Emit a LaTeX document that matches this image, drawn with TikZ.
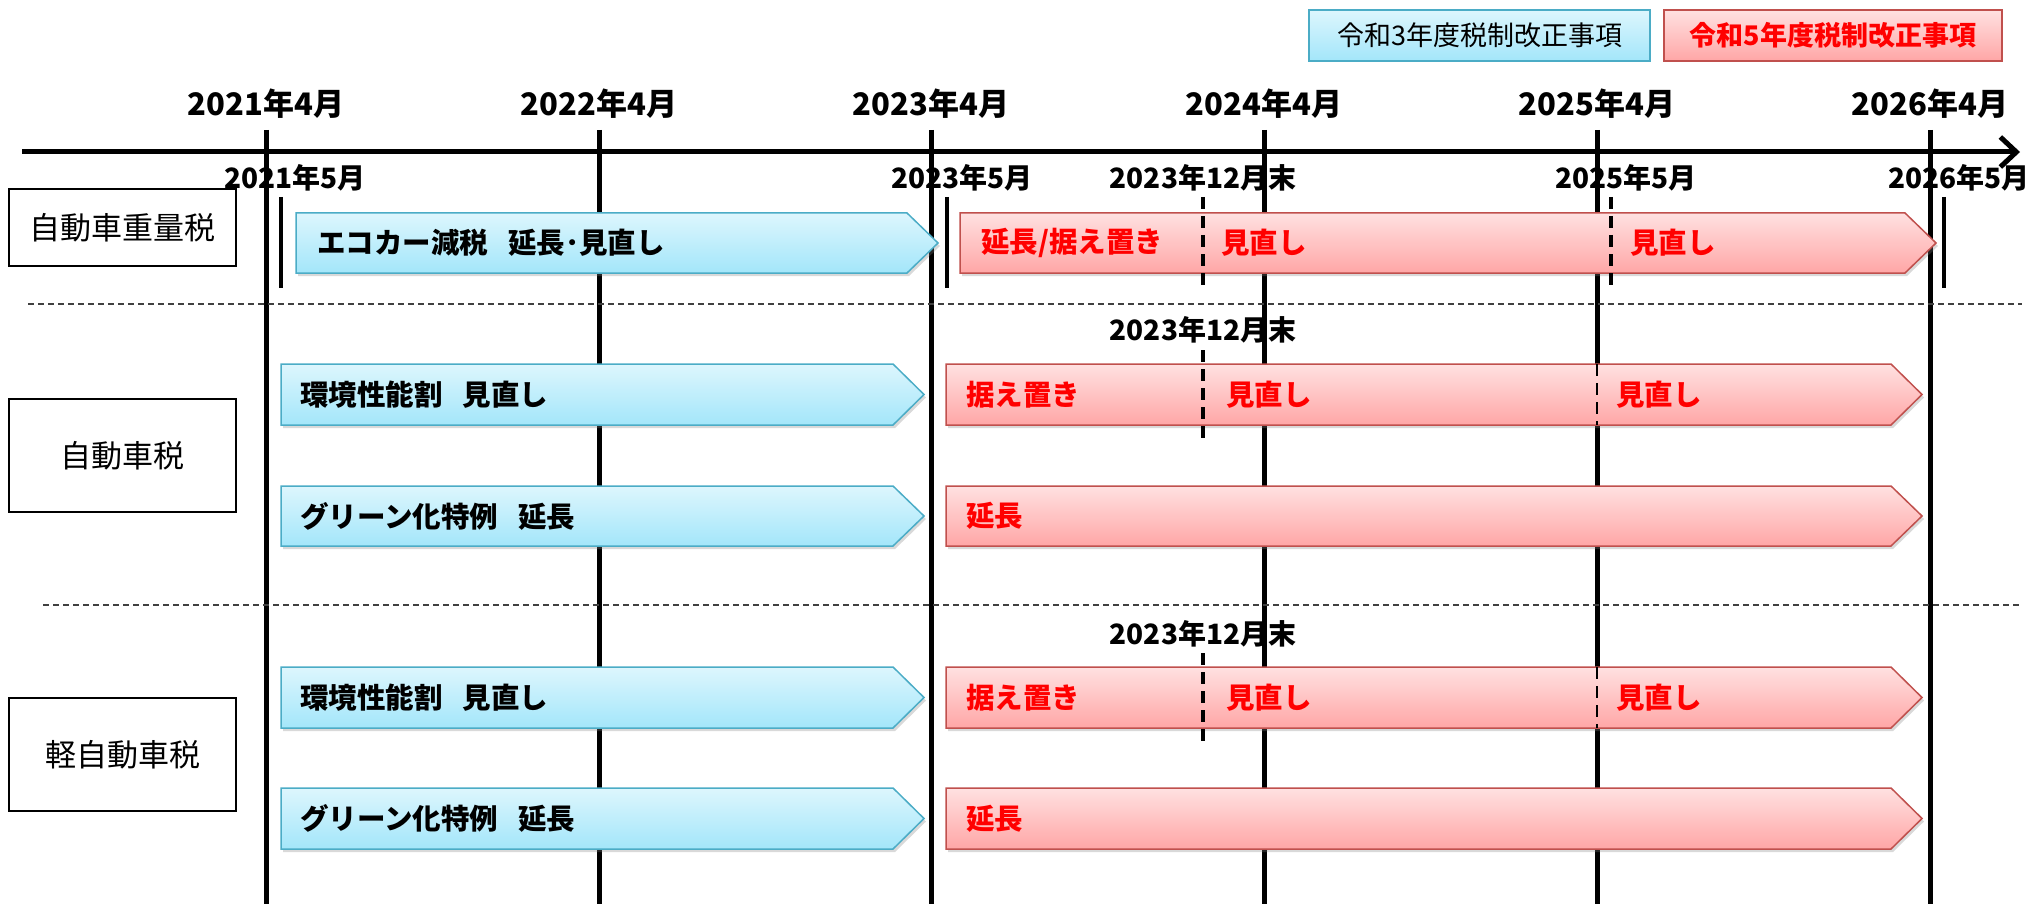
\documentclass[tikz,border=0pt]{standalone}
\usepackage{fontspec}
\setmainfont{Noto Sans CJK JP}
\usetikzlibrary{arrows.meta,shadows}
\definecolor{bluetop}{HTML}{DDF6FD}
\definecolor{bluebot}{HTML}{A3E6FA}
\definecolor{blueedge}{HTML}{4BACC6}
\definecolor{redtop}{HTML}{FFE1E1}
\definecolor{redbot}{HTML}{FFA6A6}
\definecolor{rededge}{HTML}{C0504D}
\definecolor{redtext}{HTML}{FF0000}
\newcommand\tlarrow[5]{\path[#5] (#1,#3) -- ({#2-31},#3) -- (#2,{(#3+#4)/2}) -- ({#2-31},#4) -- (#1,#4) -- cycle;}
\begin{document}
\begin{tikzpicture}[x=1pt,y=-1pt,
  yearline/.style={line width=5pt},
  yearlbl/.style={font=\fontsize{31}{34}\selectfont\bfseries, inner sep=0pt},
  mlbl/.style={font=\fontsize{28}{31}\selectfont\bfseries, inner sep=0pt},
  solidmark/.style={line width=4pt},
  dmark/.style={line width=3.5pt, dash pattern=on 12pt off 7pt},
  sepline/.style={draw=black!75, line width=1.5pt, dash pattern=on 6pt off 4pt},
  catbox/.style={draw=black, line width=1.5pt, font=\fontsize{31}{34}\selectfont, inner sep=0pt},
  bluebar/.style={draw=blueedge, line width=1.5pt, top color=bluetop, bottom color=bluebot,
     drop shadow={opacity=0.3, shadow xshift=2pt, shadow yshift=-3pt}},
  redbar/.style={draw=rededge, line width=1.5pt, top color=redtop, bottom color=redbot,
     drop shadow={opacity=0.3, shadow xshift=2pt, shadow yshift=-3pt}},
  btxt/.style={font=\fontsize{28.5}{31}\selectfont\bfseries, anchor=west, inner sep=0pt},
  rtxt/.style={btxt, text=redtext},
  legbox/.style={line width=2pt, minimum width=341pt, minimum height=51pt, inner sep=0pt,
     font=\fontsize{27}{30}\selectfont},
]
\useasboundingbox (0,0) rectangle (2032,904);

% legend
\node[legbox, draw=blueedge, top color=bluetop, bottom color=bluebot] (leg1) at (1479.5,35.5) {令和3年度税制改正事項};
\node[legbox, draw=rededge, top color=redtop, bottom color=redbot, minimum width=338pt, text=redtext, font=\fontsize{27}{30}\selectfont\bfseries] (leg2) at (1833,35.5) {令和5年度税制改正事項};

% labels
\foreach \x/\t [count=\i] in {266/2021,599/2022,931/2023,1264/2024,1597/2025,1930/2026}
  \node[yearlbl] (yl\i) at (\x,104) {{\t}年4月};
\node[mlbl] (m1) at (295,178) {2021年5月};
\node[mlbl] (m2) at (962,178) {2023年5月};
\node[mlbl] (m3) at (1203,178) {2023年12月末};
\node[mlbl] (m4) at (1626,178) {2025年5月};
\node[mlbl] (m5) at (1959,178) {2026年5月};
\node[mlbl] (m6) at (1203,330) {2023年12月末};
\node[mlbl] (m7) at (1203,634) {2023年12月末};

% year lines and axis
\foreach \x [count=\i] in {266,599,931,1264,1597,1930} {
  \coordinate (yt\i) at (\x,130);
  \coordinate (yb\i) at (\x,904);
  \draw[yearline] (yt\i) -- (yb\i);
}
\coordinate (axL) at (22,152);
\coordinate (axR) at (2020,152);
\draw[line width=5pt, -{Straight Barb[length=16pt,width=30pt]}] (axL) -- (axR);

% separators
\coordinate (s1a) at (28,304); \coordinate (s1b) at (2022,304);
\coordinate (s2a) at (43,605); \coordinate (s2b) at (2022,605);
\draw[sepline] (s1a) -- (s1b);
\draw[sepline] (s2a) -- (s2b);

% category boxes
\node[catbox, minimum width=227pt, minimum height=77pt] (c1) at (122.5,227.5) {自動車重量税};
\node[catbox, fill=white, minimum width=227pt, minimum height=113pt] (c2) at (122.5,455.5) {自動車税};
\node[catbox, fill=white, minimum width=227pt, minimum height=113pt] (c3) at (122.5,754.5) {軽自動車税};

% solid markers (row 1)
\draw[solidmark] (281,197) -- (281,288);
\draw[solidmark] (947,197) -- (947,288);
\draw[solidmark] (1944,197) -- (1944,288);

% bars
\tlarrow{296}{938}{213}{273}{bluebar}
\tlarrow{960}{1936}{213}{273}{redbar}
\tlarrow{281}{924}{364}{425}{bluebar}
\tlarrow{946}{1922}{364}{425}{redbar}
\tlarrow{281}{924}{486}{546}{bluebar}
\tlarrow{946}{1922}{486}{546}{redbar}
\tlarrow{281}{924}{667}{728}{bluebar}
\tlarrow{946}{1922}{667}{728}{redbar}
\tlarrow{281}{924}{788}{849}{bluebar}
\tlarrow{946}{1922}{788}{849}{redbar}

% dashed markers
\draw[dmark] (1203,197) -- (1203,288);
\draw[dmark] (1611,197) -- (1611,288);
\draw[dmark] (1203,350) -- (1203,441);
\draw[dmark, line width=2pt] (1597,364) -- (1597,425);
\draw[dmark] (1203,653) -- (1203,743);
\draw[dmark, line width=2pt] (1597,667) -- (1597,728);

% texts in bars
\node[btxt] (t1) at (317,243) {エコカー減税\hspace{20pt}延長･見直し};
\node[rtxt] (t2) at (981,243) {延長/据え置き};
\node[rtxt] (t3) at (1221,243) {見直し};
\node[rtxt] (t4) at (1630,243) {見直し};

\node[btxt] (t5) at (300,394.5) {環境性能割\hspace{20pt}見直し};
\node[rtxt] (t6) at (966,394.5) {据え置き};
\node[rtxt] (t7) at (1226,394.5) {見直し};
\node[rtxt] (t8) at (1616,394.5) {見直し};

\node[btxt] (t9) at (300,516) {グリーン化特例\hspace{20pt}延長};
\node[rtxt] (t10) at (966,516) {延長};

\node[btxt] (t11) at (300,697.5) {環境性能割\hspace{20pt}見直し};
\node[rtxt] (t12) at (966,697.5) {据え置き};
\node[rtxt] (t13) at (1226,697.5) {見直し};
\node[rtxt] (t14) at (1616,697.5) {見直し};

\node[btxt] (t15) at (300,818.5) {グリーン化特例\hspace{20pt}延長};
\node[rtxt] (t16) at (966,818.5) {延長};
\end{tikzpicture}
\end{document}
